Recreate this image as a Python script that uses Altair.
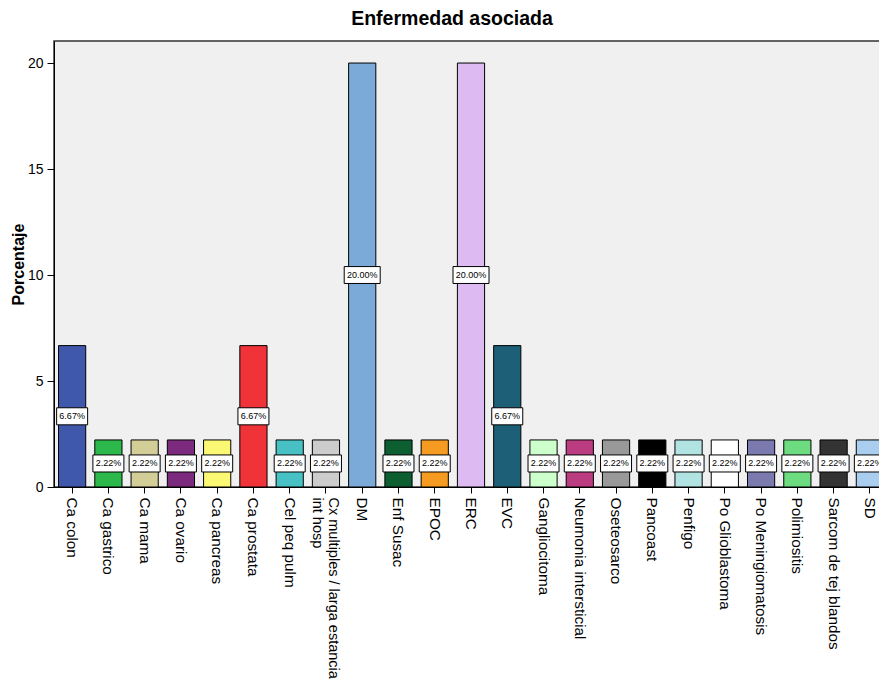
import altair as alt
import pandas as pd

categories = [
    "Ca colon", "Ca gastrico", "Ca mama", "Ca ovario", "Ca pancreas",
    "Ca prostata", "Cel peq pulm", "Cx multiples / larga estancia\nint hosp",
    "DM", "Enf Susac", "EPOC", "ERC", "EVC", "Gangliocitoma",
    "Neumonia intersticial", "Oseteosarco", "Pancoast", "Penfigo",
    "Po Glioblastoma", "Po Meningiomatosis", "Polimiositis",
    "Sarcom de tej blandos", "SD",
]
percent = [
    6.67, 2.22, 2.22, 2.22, 2.22,
    6.67, 2.22, 2.22,
    20.00, 2.22, 2.22, 20.00, 6.67, 2.22,
    2.22, 2.22, 2.22, 2.22,
    2.22, 2.22, 2.22,
    2.22, 2.22,
]
labels = [f"{v:.2f}%" for v in percent]
colors = [
    "#3F58AB", "#2DB84B", "#D3CE97", "#7B2A7E", "#FBF874",
    "#EF3338", "#48C1C4", "#CCCCCC",
    "#7BAAD8", "#0D5F31", "#F59B21", "#DEBAF2", "#1C5F76", "#CCFFCC",
    "#BB3C80", "#999999", "#000000", "#B1E3E3",
    "#FFFFFF", "#7A7AAE", "#6DDB80",
    "#333333", "#A9CEF0",
]

df = pd.DataFrame({"cat": categories, "pct": percent, "lbl": labels, "col": colors})

FONT = "Liberation Sans"

x_enc = alt.X(
    "cat:N",
    sort=categories,
    scale=alt.Scale(paddingInner=0.25, paddingOuter=0.125),
    axis=alt.Axis(
        title=None,
        labelAngle=90,
        labelAlign="left",
        labelBaseline="middle",
        labelFontSize={"condition": {"test": "indexof(datum.value, 'Cx') == 0", "value": 14.5}, "value": 15.3},
        labelFont=FONT,
        labelColor="black",
        labelExpr="split(datum.label, '\\n')",
        labelLineHeight=16,
        labelLimit=400,
        labelPadding=4,
        labelOffset={"condition": {"test": "indexof(datum.value, 'Cx') == 0", "value": 7}, "value": 0},
        tickSize=6,
        tickColor="black",
        domainColor="black",
    ),
)

y_axis = alt.Axis(
    title="Porcentaje",
    titleFontSize=16,
    titleFont=FONT,
    titleFontWeight="bold",
    titleColor="black",
    titlePadding=1,
    values=[0, 5, 10, 15, 20],
    grid=False,
    labelFontSize=14,
    labelFont=FONT,
    labelColor="black",
    labelPadding=4,
    tickSize=7,
    tickColor="black",
    domainColor="black",
)
y_scale = alt.Scale(domain=[0, 21.04], nice=False)

base = alt.Chart(df).transform_calculate(mid="datum.pct / 2")

bars = base.mark_bar(stroke="black", strokeWidth=1).encode(
    x=x_enc,
    y=alt.Y("pct:Q", scale=y_scale, axis=y_axis),
    color=alt.Color("col:N", scale=None),
)

y_mid = alt.Y("mid:Q", scale=y_scale, axis=y_axis)

box_wide = base.transform_filter("datum.pct >= 10").mark_point(
    shape="M-1,-0.47L1,-0.47L1,0.47L-1,0.47Z",
    size=1296, filled=True, fill="white", stroke="black", strokeWidth=1, opacity=1,
).encode(x=x_enc, y=y_mid)

box_narrow = base.transform_filter("datum.pct < 10").mark_point(
    shape="M-1,-0.55L1,-0.55L1,0.55L-1,0.55Z",
    size=961, filled=True, fill="white", stroke="black", strokeWidth=1, opacity=1,
).encode(x=x_enc, y=y_mid)

texts = base.mark_text(fontSize=9, font=FONT, color="black").encode(
    x=x_enc, y=y_mid, text="lbl:N"
)

chart = alt.layer(bars, box_wide, box_narrow, texts).properties(
    width=834,
    height=446,
    autosize=alt.AutoSizeParams(type="none"),
    padding={"left": 46, "top": 33, "right": -9, "bottom": 195},
    background="white",
    title=alt.TitleParams(
        "Enfermedad asociada", fontSize=19.5, fontWeight="bold", font=FONT,
        color="black", anchor="middle", offset=12, dx=-19,
    ),
).configure_view(fill="#F0F0F0", stroke="#333333", strokeWidth=1.5)

chart.save("out.html", embed_options={"renderer": "svg", "actions": False})
